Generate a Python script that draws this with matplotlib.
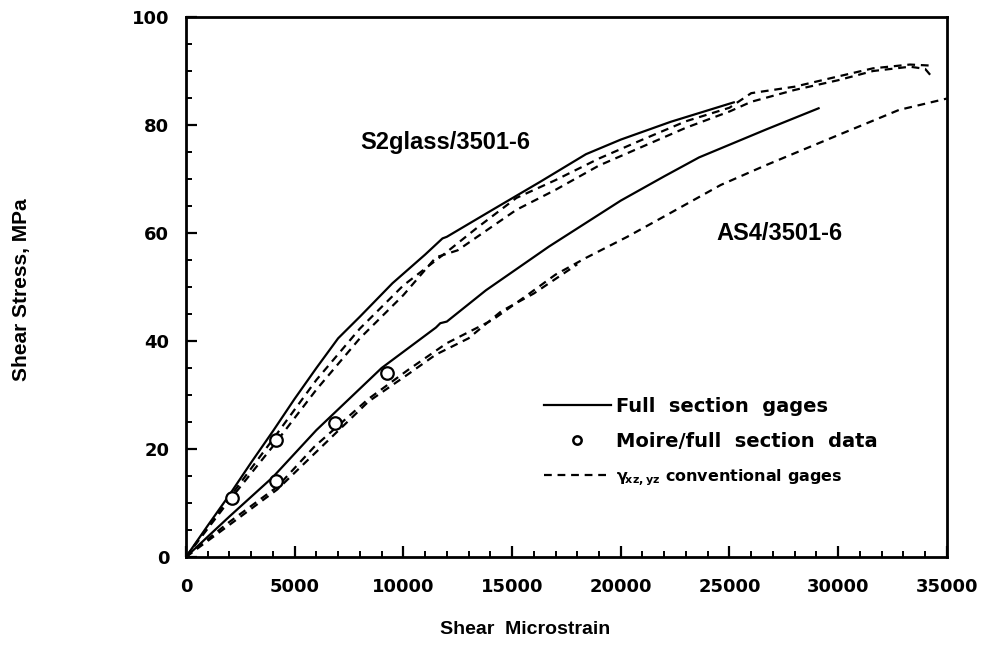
import numpy as np
import matplotlib
matplotlib.use("Agg")
import matplotlib.pyplot as plt
from matplotlib.lines import Line2D

plt.rcParams['font.family'] = ['Liberation Sans', 'DejaVu Sans']
plt.rcParams['font.weight'] = 'bold'
plt.rcParams['mathtext.fontset'] = 'custom'
plt.rcParams['mathtext.rm'] = 'DejaVu Sans:bold'
plt.rcParams['mathtext.it'] = 'DejaVu Sans:bold'

# S2glass/3501-6 curves (microstrain, MPa)
s2_full_x = [0, 1000, 2000, 3000, 4000, 5000, 6000, 7000, 8000, 9500, 11000, 11800, 12000, 14100, 16300, 18400, 20000, 22300, 25200]
s2_full_y = [0, 5.8, 11.5, 17.5, 23.3, 29.3, 35, 40.5, 44.5, 50.7, 56, 59, 59.3, 64.3, 69.5, 74.6, 77.3, 80.6, 84.2]

s2_xz_x = [0, 2000, 4000, 6000, 8000, 10000, 12000, 13400, 15200, 17000, 19000, 21000, 23000, 25000, 26000, 28000, 30000, 31600, 33300, 34300]
s2_xz_y = [0, 11, 21.8, 32.8, 42.3, 50.3, 56.5, 61, 66.5, 69.8, 73.8, 77.3, 80.7, 83.2, 85.9, 87.1, 89, 90.5, 91.2, 91]

s2_yz_x = [0, 2000, 4000, 6000, 8000, 10000, 11500, 12500, 13400, 15200, 17000, 19000, 21000, 23000, 25000, 26000, 28000, 30000, 31600, 33300, 34000, 34400]
s2_yz_y = [0, 10.5, 20.5, 31, 40.5, 48.5, 55.5, 56.8, 59.3, 64.3, 68, 72.5, 76, 79.5, 82.5, 84.3, 86.5, 88.3, 90, 90.8, 90.4, 88.5]

# AS4/3501-6 curves
as4_full_x = [0, 2000, 4000, 6000, 9000, 11500, 11700, 12000, 13800, 16700, 20000, 22000, 23600, 26700, 29100]
as4_full_y = [0, 7.5, 14.8, 23.5, 35, 42.5, 43.3, 43.6, 49.4, 57.5, 66, 70.5, 74, 79.2, 83.1]

as4_xz_x = [0, 1900, 4200, 5900, 8400, 10200, 12000, 14100, 15800, 17000, 18400, 20300, 22100, 24600, 26700, 29800, 32800, 35000]
as4_xz_y = [0, 6.2, 13, 20.4, 29.3, 34.6, 39.6, 43.9, 48.8, 52.3, 55.4, 59.3, 63.3, 68.9, 72.6, 77.8, 82.8, 84.9]

as4_yz_x = [0, 4200, 8400, 10200, 11500, 13000, 14500, 16000, 18000]
as4_yz_y = [0, 12.5, 28.8, 33.8, 37.5, 40.5, 45.5, 48.8, 54.2]

# Moire / full section data points
moire_x = [2100, 4150, 4150, 6850, 9260]
moire_y = [11.0, 21.7, 14.1, 24.8, 34.1]

fig = plt.figure(figsize=(9.89, 6.55), dpi=100)
ax = fig.add_axes([0.188, 0.1496, 0.7694, 0.8244])

lw = 1.6
dash = (3.5, 2.6)
ax.plot(s2_full_x, s2_full_y, color='black', lw=lw)
ax.plot(as4_full_x, as4_full_y, color='black', lw=lw)
for xs, ys in [(s2_xz_x, s2_xz_y), (s2_yz_x, s2_yz_y), (as4_xz_x, as4_xz_y), (as4_yz_x, as4_yz_y)]:
    ax.plot(xs, ys, color='black', lw=lw, linestyle=(0, dash))
ax.plot(moire_x, moire_y, linestyle='none', marker='o', markersize=9,
        markerfacecolor='white', markeredgecolor='black', markeredgewidth=1.6, zorder=5)

ax.set_xlim(0, 35000)
ax.set_ylim(0, 100)
ax.set_xticks(np.arange(0, 35001, 5000))
ax.set_xticks(np.arange(0, 35001, 1000), minor=True)
ax.set_yticks(np.arange(0, 101, 20))
ax.set_yticks(np.arange(0, 101, 5), minor=True)
ax.tick_params(which='major', direction='in', length=8, width=1.6)
ax.tick_params(which='minor', direction='in', length=4, width=1.4)
ax.tick_params(axis='x', which='major', pad=15)
ax.tick_params(axis='y', which='major', pad=12)
for lab in ax.get_xticklabels() + ax.get_yticklabels():
    lab.set_fontfamily('DejaVu Sans')
    lab.set_fontweight('bold')
    lab.set_fontsize(13)
for sp in ax.spines.values():
    sp.set_linewidth(2)

fig.text(22 / 989, 1 - 290 / 655, 'Shear Stress, MPa', rotation=90,
         ha='center', va='center', fontsize=15, fontweight='bold')
fig.text(525 / 989, 1 - 630 / 655, 'Shear  Microstrain', ha='center', va='center',
         fontsize=14, fontweight='bold')

ax.text(8000, 76.7, 'S2glass/3501-6', fontsize=17, fontweight='bold', va='center')
ax.text(24400, 60, 'AS4/3501-6', fontsize=17, fontweight='bold', va='center')

handles = [
    Line2D([], [], color='black', lw=lw),
    Line2D([], [], linestyle='none', marker='o', markersize=6,
           markerfacecolor='white', markeredgecolor='black', markeredgewidth=1.8),
    Line2D([], [], color='black', lw=lw, linestyle=(0, dash)),
]
labels = ['Full  section  gages', 'Moire/full  section  data',
          r'$\gamma_{\!xz,yz}$ conventional gages']
leg = ax.legend(handles, labels, loc='center left', bbox_to_anchor=(0.447, 0.212),
                frameon=False, handlelength=3.45, handletextpad=0.3,
                labelspacing=0.85, prop={'family': 'DejaVu Sans', 'weight': 'bold', 'size': 14})
leg.get_texts()[2].set_fontsize(11.5)

fig.savefig('out.png', dpi=100)
